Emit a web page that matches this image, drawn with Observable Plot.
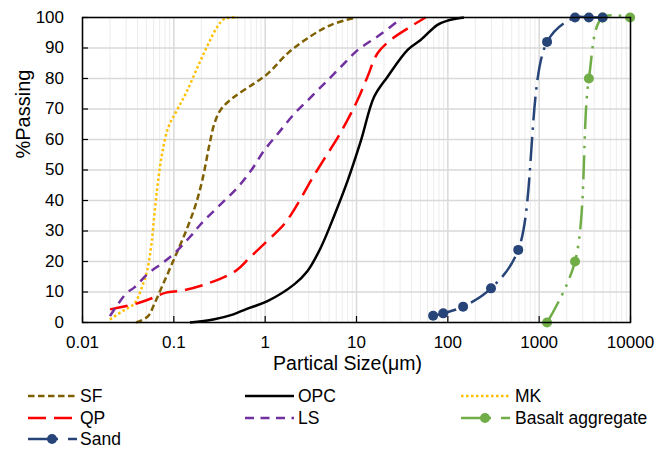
<!DOCTYPE html>
<html>
<head>
<meta charset="utf-8">
<script src="https://cdn.jsdelivr.net/npm/d3@7"></script>
<script src="https://cdn.jsdelivr.net/npm/@observablehq/plot@0.6"></script>
<style>
  body { margin: 0; background: #fff; }
  #wrap { position: relative; width: 655px; height: 450px; font-family: "Liberation Sans", Arial, sans-serif; color: #000; }
  #chart svg { display: block; }
  .lt { position: absolute; font-size: 17.5px; line-height: 24px; white-space: nowrap; }
  .ls { position: absolute; }
</style>
</head>
<body>
<div id="wrap"><div id="chart"></div></div>
<script>
// ---- data (particle size in µm, % passing) ----
const sfSize   = [0.0386, 0.052, 0.061, 0.076, 0.098, 0.136, 0.175, 0.208, 0.246, 0.28, 0.33, 0.46, 0.76, 1.06, 1.8, 3.2, 5.3, 9.8];
const sfPass   = [0, 2, 6, 12.5, 20, 30, 39, 47.5, 58.5, 65.5, 70, 74, 78.4, 81.5, 88.5, 94, 97.6, 100];

const opcSize  = [0.15, 0.27, 0.44, 0.675, 1.06, 2.08, 2.91, 4.07, 5.7, 8.0, 11.2, 15.6, 21.9, 36.3, 50.7, 77, 100, 150];
const opcPass  = [0, 1, 2.6, 4.8, 7, 12.5, 16.9, 24.6, 35, 46.5, 59.7, 74, 80.6, 89.4, 92.7, 97.6, 99, 100];

const mkSize   = [0.02, 0.028, 0.037, 0.044, 0.051, 0.057, 0.062, 0.067, 0.074, 0.087, 0.11, 0.14, 0.19, 0.24, 0.30, 0.36, 0.5];
const mkPass   = [1, 3.9, 6.2, 11, 17, 26, 37, 46, 55, 64, 70, 76, 85, 91.5, 97, 99.6, 100];

const qpSize   = [0.02, 0.039, 0.059, 0.082, 0.125, 0.246, 0.48, 0.68, 1.06, 1.61, 2.26, 3.17, 4.3, 6.2, 8.5, 10.3, 13.2, 17, 23.8, 39, 57];
const qpPass   = [4.3, 6.2, 8.1, 9.8, 10.5, 13, 17, 21.3, 26.8, 32.2, 38.8, 46.5, 53, 60.5, 68, 73, 80.6, 88.3, 92.7, 97, 100];

const lsSize   = [0.02, 0.03, 0.037, 0.052, 0.075, 0.10, 0.16, 0.198, 0.327, 0.50, 0.70, 0.975, 1.37, 2.08, 3.17, 4.82, 6.74, 10.3, 17, 28, 31];
const lsPass   = [2.1, 9.5, 11.5, 16, 19.5, 22.5, 29, 32.3, 38.8, 44.3, 49.8, 56.4, 61.8, 68.4, 73.9, 79.4, 83.8, 89.3, 93.8, 98.7, 100];

const basaltSize = [1220, 2470, 3500, 4950, 9900];
const basaltPass = [0, 20, 80, 100, 100];

const sandSize = [69, 89, 147, 297, 590, 1220, 2470, 3500, 4950];
const sandPass = [2.2, 3, 5.2, 11.2, 23.8, 92, 100, 100, 100];

const xTicks = [0.01, 0.1, 1, 10, 100, 1000, 10000];
const yTicks = [0, 10, 20, 30, 40, 50, 60, 70, 80, 90, 100];
const xTitle = "Partical Size(μm)";
const yTitle = "%Passing";

// ---- series styling ----
const FONT = '"Liberation Sans", Arial, sans-serif';
const series = [
  {name: "SF",  size: sfSize,  pass: sfPass,  color: "#7F6000", dash: "6.5 3.5"},
  {name: "OPC", size: opcSize, pass: opcPass, color: "#000000", dash: null},
  {name: "MK",  size: mkSize,  pass: mkPass,  color: "#FFC000", dash: "2.5 2.5"},
  {name: "QP",  size: qpSize,  pass: qpPass,  color: "#FF0000", dash: "18 8"},
  {name: "LS",  size: lsSize,  pass: lsPass,  color: "#7030A0", dash: "9 6.5"},
  {name: "Basalt aggregate", size: basaltSize, pass: basaltPass, color: "#70AD47", dash: "24 7 2.5 7 2.5 7", marker: true},
  {name: "Sand", size: sandSize, pass: sandPass, color: "#264478", dash: "24 7 2.5 7", marker: true}
];
const rows = s => s.size.map((v, i) => ({size: v, pass: s.pass[i]}));

const W = 655, H = 380, mT = 17, mR = 25, mB = 58, mL = 82;
const plotW = W - mL - mR, plotH = H - mT - mB;

const minorX = [];
for (let e = -2; e < 4; e++) for (let k = 2; k <= 9; k++) minorX.push(k * Math.pow(10, e));

const lineMarks = [];
for (const s of series) {
  lineMarks.push(Plot.line(rows(s), {
    x: "size", y: "pass", stroke: s.color, strokeWidth: 2.5,
    strokeDasharray: s.dash || undefined, strokeLinecap: "butt", curve: "catmull-rom"
  }));
  if (s.marker) lineMarks.push(Plot.dot(rows(s), {x: "size", y: "pass", r: 5, fill: s.color, stroke: "none"}));
}

const chart = Plot.plot({
  width: W, height: H,
  marginTop: mT, marginRight: mR, marginBottom: mB, marginLeft: mL,
  style: {fontFamily: FONT, background: "#fff", color: "#000", overflow: "visible"},
  x: {type: "log", domain: [0.01, 10000]},
  y: {domain: [0, 100]},
  marks: [
    Plot.ruleX(minorX, {x: d => d, stroke: "#ececec", strokeWidth: 1}),
    Plot.ruleX(xTicks, {x: d => d, stroke: "#d9d9d9", strokeWidth: 1.5}),
    Plot.ruleY(yTicks, {y: d => d, stroke: "#d9d9d9", strokeWidth: 1.5}),
    ...lineMarks,
    Plot.frame({stroke: "#000", strokeWidth: 1.5}),
    Plot.ruleX(xTicks, {x: d => d, stroke: "#000", strokeWidth: 1.2, insetTop: plotH - 6}),
    Plot.ruleY(yTicks, {y: d => d, stroke: "#000", strokeWidth: 1.2, insetRight: plotW - 6}),
    Plot.axisX(xTicks, {tickSize: 0, tickPadding: 13, fontSize: 17, fontFamily: FONT, tickFormat: d => String(d), label: null}),
    Plot.axisY(yTicks, {tickSize: 0, tickPadding: 18.5, fontSize: 17, fontFamily: FONT, tickFormat: d => String(d), label: null}),
    Plot.text([xTitle], {text: d => d, frameAnchor: "bottom", dy: 47, dx: -9, fontSize: 19.5, fontFamily: FONT, fill: "#000"}),
    Plot.text([yTitle], {text: d => d, frameAnchor: "left", dx: -59, dy: -11.5, rotate: -90, fontSize: 20, fontFamily: FONT, fill: "#000"})
  ]
});
document.getElementById("chart").appendChild(chart);

// ---- legend (below the plot) ----
const wrap = document.getElementById("wrap");
const colX = [{sw: 28, tx: 80}, {sw: 245, tx: 298}, {sw: 461, tx: 515}];
const rowY = [396, 417.5, 439];
const order = ["SF", "OPC", "MK", "QP", "LS", "Basalt aggregate", "Sand"];
order.forEach((name, i) => {
  const s = series.find(d => d.name === name);
  const c = colX[i % 3], y = rowY[Math.floor(i / 3)];
  const sw = 49;
  const svgNS = "http://www.w3.org/2000/svg";
  const svg = document.createElementNS(svgNS, "svg");
  svg.setAttribute("width", sw); svg.setAttribute("height", 14);
  svg.setAttribute("class", "ls");
  svg.style.left = c.sw + "px"; svg.style.top = (y - 7) + "px";
  const ln = document.createElementNS(svgNS, "line");
  ln.setAttribute("x1", 0); ln.setAttribute("x2", sw); ln.setAttribute("y1", 7); ln.setAttribute("y2", 7);
  ln.setAttribute("stroke", s.color); ln.setAttribute("stroke-width", 2.5);
  if (s.dash) ln.setAttribute("stroke-dasharray", s.marker ? "30 10 10" : s.dash);
  svg.appendChild(ln);
  if (s.marker) {
    const ci = document.createElementNS(svgNS, "circle");
    ci.setAttribute("cx", 24); ci.setAttribute("cy", 7); ci.setAttribute("r", 5); ci.setAttribute("fill", s.color);
    svg.appendChild(ci);
  }
  wrap.appendChild(svg);
  const t = document.createElement("div");
  t.className = "lt"; t.textContent = s.name;
  t.style.left = c.tx + "px"; t.style.top = (y - 12) + "px";
  wrap.appendChild(t);
});
</script>
</body>
</html>
